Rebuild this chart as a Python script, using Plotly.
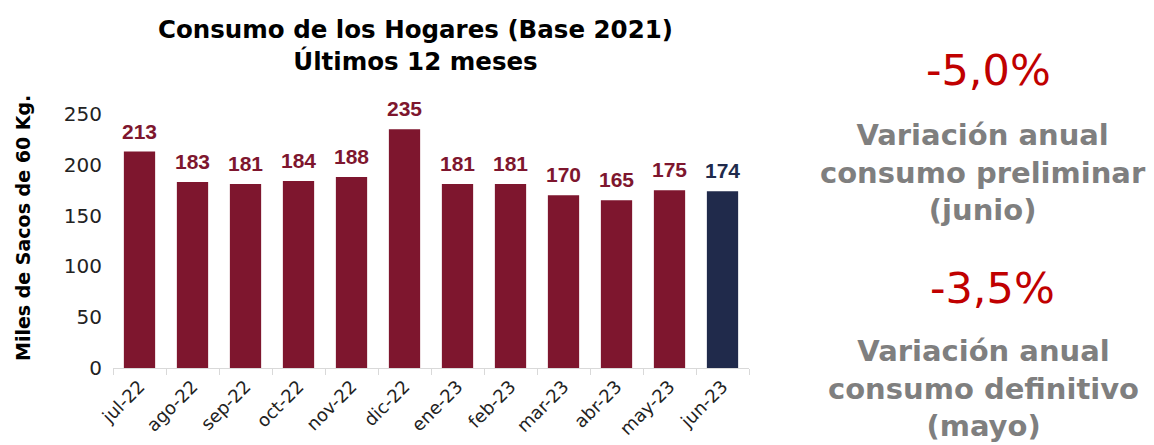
import plotly.graph_objects as go

months = ["jul-22", "ago-22", "sep-22", "oct-22", "nov-22", "dic-22",
          "ene-23", "feb-23", "mar-23", "abr-23", "may-23", "jun-23"]
values = [213, 183, 181, 184, 188, 235, 181, 181, 170, 165, 175, 174]
y_ticks = [0, 50, 100, 150, 200, 250]

MAROON = "#7E162E"
NAVY = "#202A4B"
colors = [MAROON] * (len(months) - 1) + [NAVY]

fig = go.Figure()
fig.add_trace(go.Bar(
    x=months, y=values, marker=dict(color=colors, line=dict(width=0)),
    cliponaxis=False,
))

# data labels above bars
for m, v, c in zip(months, values, colors):
    fig.add_annotation(
        x=m, y=v, text=f"<b>{v}</b>", showarrow=False,
        xanchor="center", yanchor="bottom", yshift=7,
        font=dict(family="Liberation Sans", size=21, color=c),
    )

OFF = 8  # page body margin
W, H = 1154 - OFF, 445 - OFF
# plot area in reference (window) pixels
PX0, PX1, PY0, PY1 = 113, 749, 114, 368
L, R, T, B = PX0 - OFF, (W + OFF) - PX1, PY0 - OFF, (H + OFF) - PY1
PW, PH = W - L - R, H - T - B


def px_x(x):
    return (x - PX0) / PW


def px_y(y):
    return (PY1 - y) / PH


fig.update_layout(
    width=W, height=H,
    margin=dict(l=L, r=R, t=T, b=B, autoexpand=False),
    plot_bgcolor="white", paper_bgcolor="white",
    bargap=0.41, showlegend=False,
    font=dict(family="DejaVu Sans", color="#222222"),
    yaxis=dict(
        range=[0, 250], tickvals=y_ticks, showgrid=False, zeroline=False,
        showline=False, tickfont=dict(size=20, color="#222222"),
        ticks="", ticklabelstandoff=10, automargin=False,
    ),
    xaxis=dict(
        showline=True, linecolor="#D9D9D9", linewidth=1,
        ticks="outside", tickcolor="#D9D9D9", ticklen=6,
        tickson="boundaries", tickangle=-45, automargin=False,
        tickfont=dict(size=18, color="#222222"),
    ),
)

# Title
fig.add_annotation(
    text="<b>Consumo de los Hogares (Base 2021)<br>Últimos 12 meses</b>",
    xref="paper", yref="paper", x=px_x(415), y=px_y(45),
    xanchor="center", yanchor="middle", showarrow=False,
    font=dict(family="DejaVu Sans", size=24.5, color="black"),
)
# Y axis title
fig.add_annotation(
    text="<b>Miles de Sacos de 60 Kg.</b>",
    xref="paper", yref="paper", x=px_x(23), y=px_y(228),
    xanchor="center", yanchor="middle", showarrow=False, textangle=-90,
    font=dict(family="DejaVu Sans", size=19, color="black"),
)

ann = [
    ("-5,0%", 988, 70, 43, "#C00000", False),
    ("Variación anual<br>consumo preliminar<br>(junio)", 983, 172, 29, "#7F7F7F", True),
    ("-3,5%", 992, 288, 43, "#C00000", False),
    ("Variación anual<br>consumo definitivo<br>(mayo)", 983, 388, 29, "#7F7F7F", True),
]
for txt, xc, yc, sz, col, bold in ann:
    fig.add_annotation(
        text=f"<b>{txt}</b>" if bold else txt,
        xref="paper", yref="paper",
        x=px_x(xc), y=px_y(yc),
        xanchor="center", yanchor="middle", showarrow=False,
        font=dict(family="DejaVu Sans", size=sz, color=col),
    )

fig.write_html("out.html")
